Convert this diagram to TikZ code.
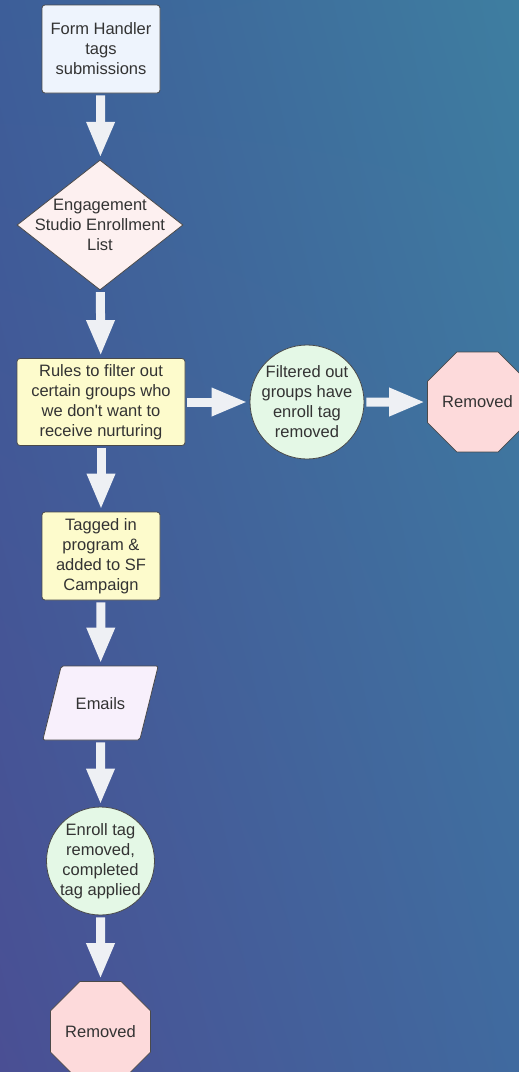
\documentclass[tikz,border=0pt]{standalone}
\usepackage{fontspec}
\newfontfamily\flowfont{Liberation Sans}
\usepackage{xcolor}
\usepackage{tikz}
\usetikzlibrary{arrows.meta,shapes.geometric,shadings}

\definecolor{bgTL}{HTML}{3D5E99}
\definecolor{bgTR}{HTML}{3E7EA0}
\definecolor{bgBL}{HTML}{4A4F94}
\definecolor{bgBR}{HTML}{406A9F}
\definecolor{edgegray}{HTML}{4A4A4A}
\definecolor{textgray}{HTML}{333333}
\definecolor{arrowwhite}{HTML}{EEF0F4}
\definecolor{fillblue}{HTML}{EEF4FD}
\definecolor{fillrose}{HTML}{FDF0F0}
\definecolor{fillyellow}{HTML}{FDFBCC}
\definecolor{fillgreen}{HTML}{E4F8E6}
\definecolor{fillpink}{HTML}{FDDADB}
\definecolor{filllilac}{HTML}{F8F0FC}

\tikzset{
  base/.style={draw=edgegray, line width=0.8pt, text=textgray, align=center,
    font=\flowfont\fontsize{16.5}{20}\selectfont},
  procbox/.style={base, rectangle, rounded corners=3pt, inner sep=0pt},
  decision/.style={base, diamond, fill=fillrose, inner xsep=-40pt, inner ysep=-30pt,
    minimum width=166pt, minimum height=130pt},
  roundstep/.style={base, circle, fill=fillgreen, inner sep=-10pt},
  stopsign/.style={base, regular polygon, regular polygon sides=8, fill=fillpink, inner sep=0pt},
  iobox/.style={base, trapezium, trapezium left angle=76, trapezium right angle=104,
    rounded corners=2pt, fill=filllilac, text height=12pt, text depth=0pt,
    inner ysep=31pt, inner xsep=14.5pt},
  flow/.style={draw=arrowwhite, line width=9pt, -{Triangle[width=26pt,length=36pt]},
    shorten >=2pt, shorten <=2pt}
}

\begin{document}
\begin{tikzpicture}[x=1pt,y=-1pt]
    \shade[upper left=bgTL, upper right=bgTR, lower left=bgBL, lower right=bgBR]
        (0,0) rectangle (519,1072);
    \useasboundingbox (0,0) rectangle (519,1072);
    \clip (0,0) rectangle (519,1072);

    \node[procbox, fill=fillblue, minimum width=118pt, minimum height=88pt] (handler) at (101,49)
        {Form Handler\\tags\\submissions};
    \node[decision] (enroll) at (100,225) {Engagement\\Studio Enrollment\\List};
    \node[procbox, fill=fillyellow, minimum width=168pt, minimum height=87pt] (rules) at (101,402)
        {Rules to filter out\\certain groups who\\we don't want to\\receive nurturing};
    \node[roundstep, minimum size=114pt] (filtered) at (307,402)
        {Filtered out\\groups have\\enroll tag\\removed};
    \node[stopsign, minimum size=101pt] (removedA) at (477.5,402) {Removed};
    \node[procbox, fill=fillyellow, minimum width=118pt, minimum height=88pt] (tagged) at (101,556)
        {Tagged in\\program \&\\added to SF\\Campaign};
    \node[iobox] (emails) at (100.5,703) {Emails};
    \node[roundstep, minimum size=108pt] (completed) at (100.5,861)
        {Enroll tag\\removed,\\completed\\tag applied};
    \node[stopsign, minimum size=107pt] (removedB) at (100.5,1031.5) {Removed};

    \draw[flow] (handler) -- (enroll);
    \draw[flow] (enroll) -- (rules);
    \draw[flow] (rules) -- (filtered);
    \draw[flow] (filtered) -- (removedA);
    \draw[flow] (rules) -- (tagged);
    \draw[flow] (tagged) -- (emails);
    \draw[flow] (emails) -- (completed);
    \draw[flow] (completed) -- (removedB);
\end{tikzpicture}
\end{document}
